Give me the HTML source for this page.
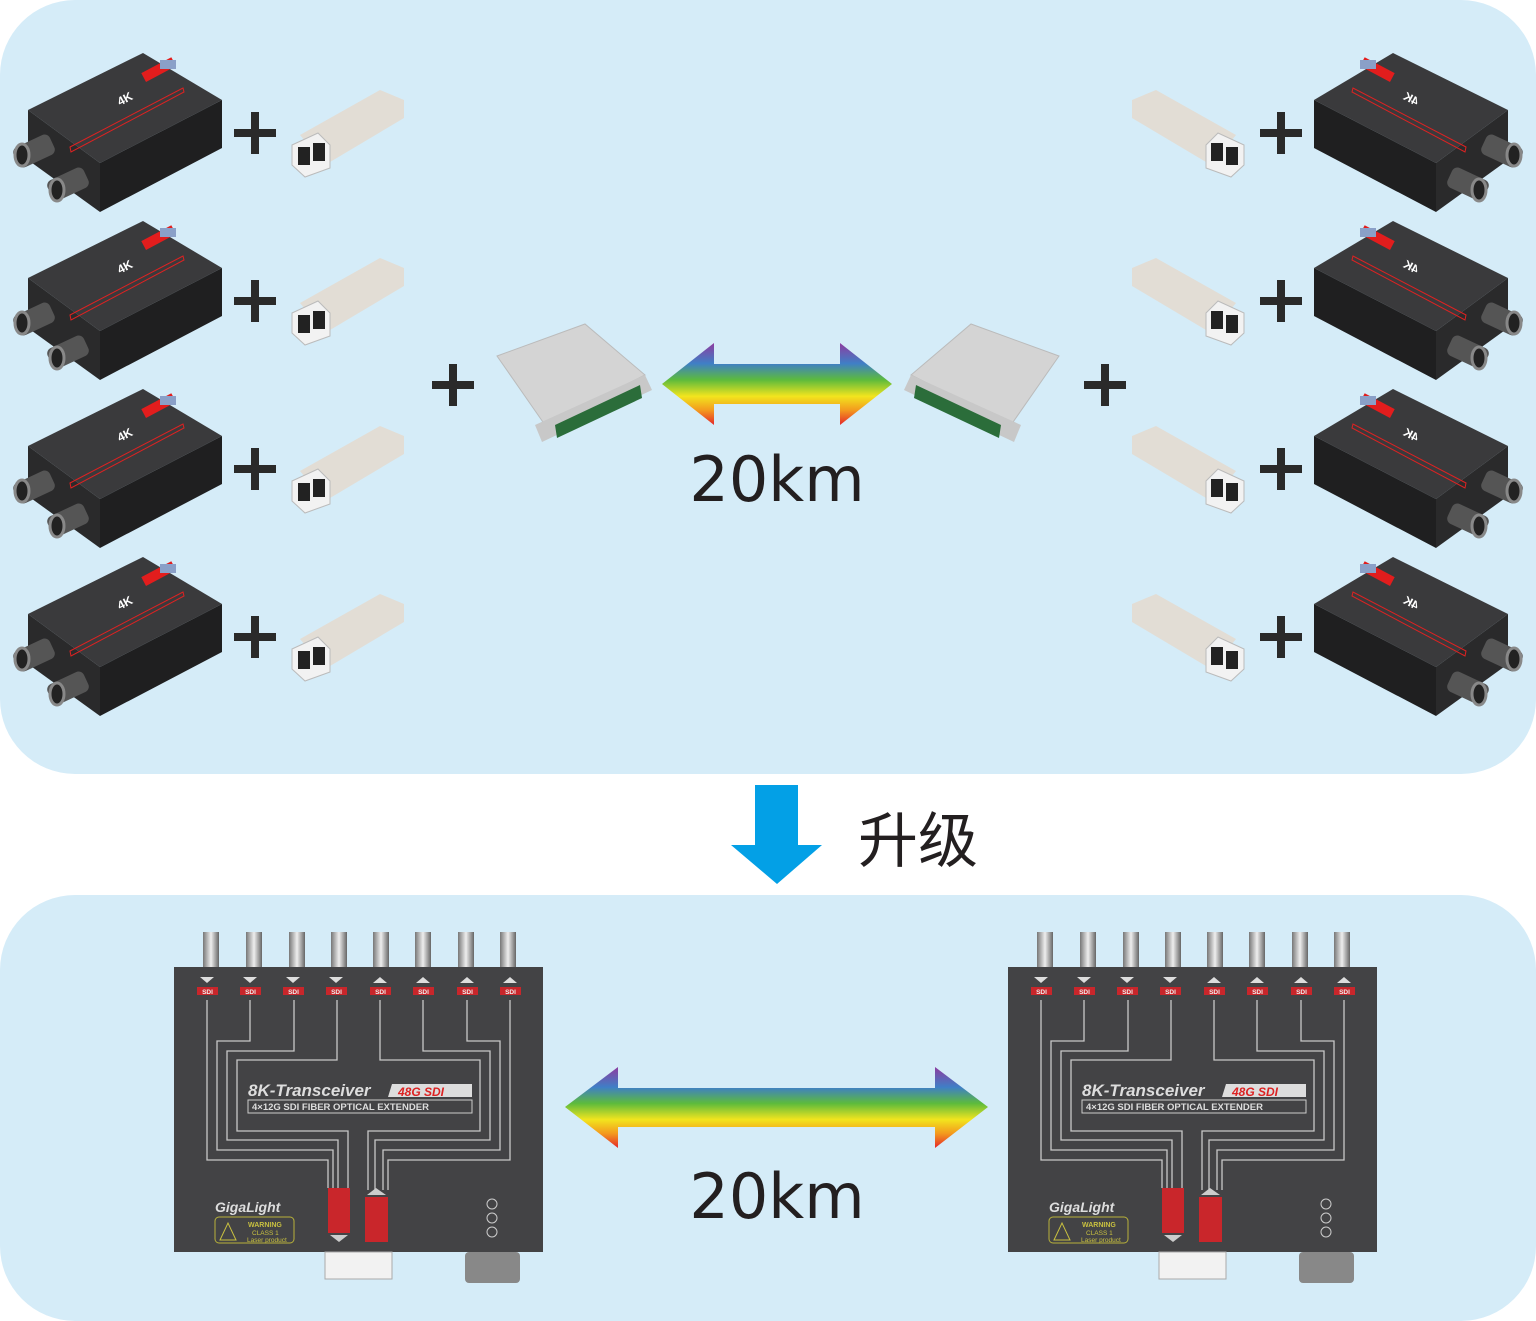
<!DOCTYPE html>
<html><head><meta charset="utf-8"><style>
html,body{margin:0;padding:0;background:#fff;}
svg{display:block;}
</style></head><body>
<svg width="1536" height="1321" viewBox="0 0 1536 1321" xmlns="http://www.w3.org/2000/svg" font-family="Liberation Sans, sans-serif">
<defs>
<linearGradient id="rb" x1="0" y1="0" x2="0" y2="1">
<stop offset="0" stop-color="#8e3ca0"/><stop offset="0.25" stop-color="#3f7fc6"/><stop offset="0.45" stop-color="#5dbb3c"/><stop offset="0.65" stop-color="#f2e51e"/><stop offset="0.82" stop-color="#f39a1e"/><stop offset="1" stop-color="#e5262a"/>
</linearGradient>
<linearGradient id="bnc" x1="0" y1="0" x2="1" y2="0"><stop offset="0" stop-color="#777"/><stop offset="0.5" stop-color="#eee"/><stop offset="1" stop-color="#666"/></linearGradient>
</defs>
<rect x="0" y="0" width="1536" height="774" rx="75" fill="#d5ecf8"/>
<rect x="0" y="895" width="1536" height="426" rx="75" fill="#d5ecf8"/>

<g id="row">
<polygon points="28,110 143,53 222,100 100,163" fill="#3a3a3c"/>
<polygon points="100,163 222,100 222,148 100,212" fill="#1f1f20"/>
<polygon points="28,110 100,163 100,212 28,160" fill="#2a2a2b"/>
<polygon points="70,147 183,88 184,92 71,152" fill="none" stroke="#d22" stroke-width="1"/>
<rect x="146" y="72" width="34" height="10" fill="#e21d1d" transform="rotate(-28 146 82)"/>
<text x="120" y="106" font-size="12" font-weight="bold" fill="#fff" transform="rotate(-28 120 106)">4K</text>
<rect x="160" y="60" width="16" height="9" fill="#8aa0c8"/>
<rect x="14" y="140" width="40" height="22" rx="6" fill="#555" transform="rotate(-25 34 151)"/>
<ellipse cx="22" cy="155" rx="7" ry="11" fill="#222" stroke="#888" stroke-width="3"/>
<rect x="48" y="173" width="40" height="22" rx="6" fill="#555" transform="rotate(-25 68 184)"/>
<ellipse cx="57" cy="190" rx="7" ry="11" fill="#222" stroke="#888" stroke-width="3"/>
<rect x="234" y="129" width="42" height="8" fill="#2a2a2a"/><rect x="251" y="112" width="8" height="42" fill="#2a2a2a"/>
<polygon points="300,135 380,90 404,100 404,118 325,165" fill="#e2ddd5"/>
<polygon points="292,145 318,133 330,145 330,168 305,177 292,165" fill="#f2f2f2" stroke="#bbb"/>
<rect x="298" y="147" width="12" height="18" fill="#222"/><rect x="313" y="143" width="12" height="18" fill="#222"/>
</g>
<g id="rowsL">
<use href="#row" transform="translate(0,168)"/>
<use href="#row" transform="translate(0,336)"/>
<use href="#row" transform="translate(0,504)"/>
</g>
<g transform="translate(1536,0) scale(-1,1)">
<use href="#row"/><use href="#rowsL"/>
</g>

<rect x="432" y="381" width="42" height="8" fill="#2a2a2a"/><rect x="449" y="364" width="8" height="42" fill="#2a2a2a"/>
<rect x="1084" y="381" width="42" height="8" fill="#2a2a2a"/><rect x="1101" y="364" width="8" height="42" fill="#2a2a2a"/>
<g id="spl">
<polygon points="497,356 585,324 645,375 545,425" fill="#d4d4d4" stroke="#bbb"/>
<polygon points="535,425 645,375 652,390 542,442" fill="#c8c8c8"/>
<polygon points="555,425 640,385 642,398 557,438" fill="#2b6d3a"/>
</g>
<g transform="translate(1556,0) scale(-1,1)"><use href="#spl"/></g>
<polygon points="662,384 714,343 714,364 840,364 840,343 892,384 840,425 840,404 714,404 714,425" fill="url(#rb)"/>
<text x="777" y="501" font-size="62" fill="#231f20" text-anchor="middle" font-family="DejaVu Sans, sans-serif">20km</text>

<polygon points="755,785 798,785 798,845 822,845 777,884 731,845 755,845" fill="#03a0e6"/>
<text x="918" y="862" font-size="60" fill="#231f20" text-anchor="middle" font-family="Liberation Sans, Noto Sans CJK SC, sans-serif">升级</text>

<polygon points="565,1107 618,1067 618,1088 935,1088 935,1067 988,1107 935,1148 935,1127 618,1127 618,1148" fill="url(#rb)"/>
<text x="777" y="1218" font-size="62" fill="#231f20" text-anchor="middle" font-family="DejaVu Sans, sans-serif">20km</text>

<g id="big" transform="translate(170,920)">
<g fill="url(#bnc)">
<rect x="33" y="12" width="16" height="35"/><rect x="76" y="12" width="16" height="35"/><rect x="119" y="12" width="16" height="35"/><rect x="161" y="12" width="16" height="35"/>
<rect x="203" y="12" width="16" height="35"/><rect x="245" y="12" width="16" height="35"/><rect x="288" y="12" width="16" height="35"/><rect x="330" y="12" width="16" height="35"/>
</g>
<rect x="4" y="47" width="369" height="285" fill="#434345"/>
<g fill="#c9262b">
<rect x="27" y="67" width="21" height="8"/><rect x="70" y="67" width="21" height="8"/><rect x="113" y="67" width="21" height="8"/><rect x="156" y="67" width="21" height="8"/>
<rect x="200" y="67" width="21" height="8"/><rect x="243" y="67" width="21" height="8"/><rect x="287" y="67" width="21" height="8"/><rect x="330" y="67" width="21" height="8"/>
</g>
<g font-size="6.5" font-weight="bold" fill="#eee" text-anchor="middle">
<text x="37.5" y="74">SDI</text><text x="80.5" y="74">SDI</text><text x="123.5" y="74">SDI</text><text x="166.5" y="74">SDI</text>
<text x="210.5" y="74">SDI</text><text x="253.5" y="74">SDI</text><text x="297.5" y="74">SDI</text><text x="340.5" y="74">SDI</text>
</g>
<g fill="#ddd">
<polygon points="30,57 44,57 37,63"/><polygon points="73,57 87,57 80,63"/><polygon points="116,57 130,57 123,63"/><polygon points="159,57 173,57 166,63"/>
<polygon points="203,63 217,63 210,57"/><polygon points="246,63 260,63 253,57"/><polygon points="290,63 304,63 297,57"/><polygon points="333,63 347,63 340,57"/>
</g>
<g fill="none" stroke="#c8c8c8" stroke-width="1.3">
<polyline points="37,80 37,240 158,240 158,268"/>
<polyline points="80,80 80,121 47,121 47,230 163,230 163,268"/>
<polyline points="124,80 124,131 57,131 57,220 168,220 168,268"/>
<polyline points="167,80 167,140 67,140 67,211 178,211 178,268"/>
<polyline points="340,80 340,240 218,240 218,270"/>
<polyline points="297,80 297,121 330,121 330,230 213,230 213,270"/>
<polyline points="253,80 253,131 320,131 320,220 205,220 205,270"/>
<polyline points="210,80 210,140 310,140 310,211 198,211 198,270"/>
</g>
<text x="78" y="176" font-size="17" font-weight="bold" font-style="italic" fill="#ddd">8K-Transceiver</text>
<polygon points="222,164 302,164 302,177 218,177" fill="#ddd"/>
<text x="228" y="176" font-size="12" font-weight="bold" font-style="italic" fill="#d22">48G SDI</text>
<rect x="78" y="180" width="224" height="13" fill="none" stroke="#ccc"/>
<text x="82" y="190" font-size="9.5" font-weight="bold" fill="#ddd">4×12G SDI FIBER OPTICAL EXTENDER</text>
<rect x="158" y="268" width="22" height="45" fill="#c9262b"/>
<rect x="195" y="277" width="23" height="45" fill="#c9262b"/>
<polygon points="160,315 178,315 169,322" fill="#ccc"/><polygon points="197,275 216,275 206,268" fill="#ccc"/>
<text x="45" y="292" font-size="14" font-style="italic" font-weight="bold" fill="#ddd">GigaLight</text>
<rect x="45" y="297" width="79" height="26" rx="4" fill="none" stroke="#b8b23a"/>
<text x="78" y="307" font-size="7" font-weight="bold" fill="#c8c040">WARNING</text>
<text x="82" y="315" font-size="6.5" fill="#c8c040">CLASS 1</text>
<text x="77" y="322" font-size="6.5" fill="#c8c040">Laser product</text>
<polygon points="50,320 58,303 66,320" fill="none" stroke="#c8c040"/>
<circle cx="322" cy="284" r="5" fill="none" stroke="#ccc"/><circle cx="322" cy="298" r="5" fill="none" stroke="#ccc"/><circle cx="322" cy="312" r="5" fill="none" stroke="#ccc"/>
<rect x="155" y="332" width="67" height="27" fill="#f2f2f2" stroke="#aaa"/>
<rect x="295" y="332" width="55" height="31" rx="4" fill="#888"/>
</g>
<use href="#big" transform="translate(834,0)"/>
</svg>
</body></html>
